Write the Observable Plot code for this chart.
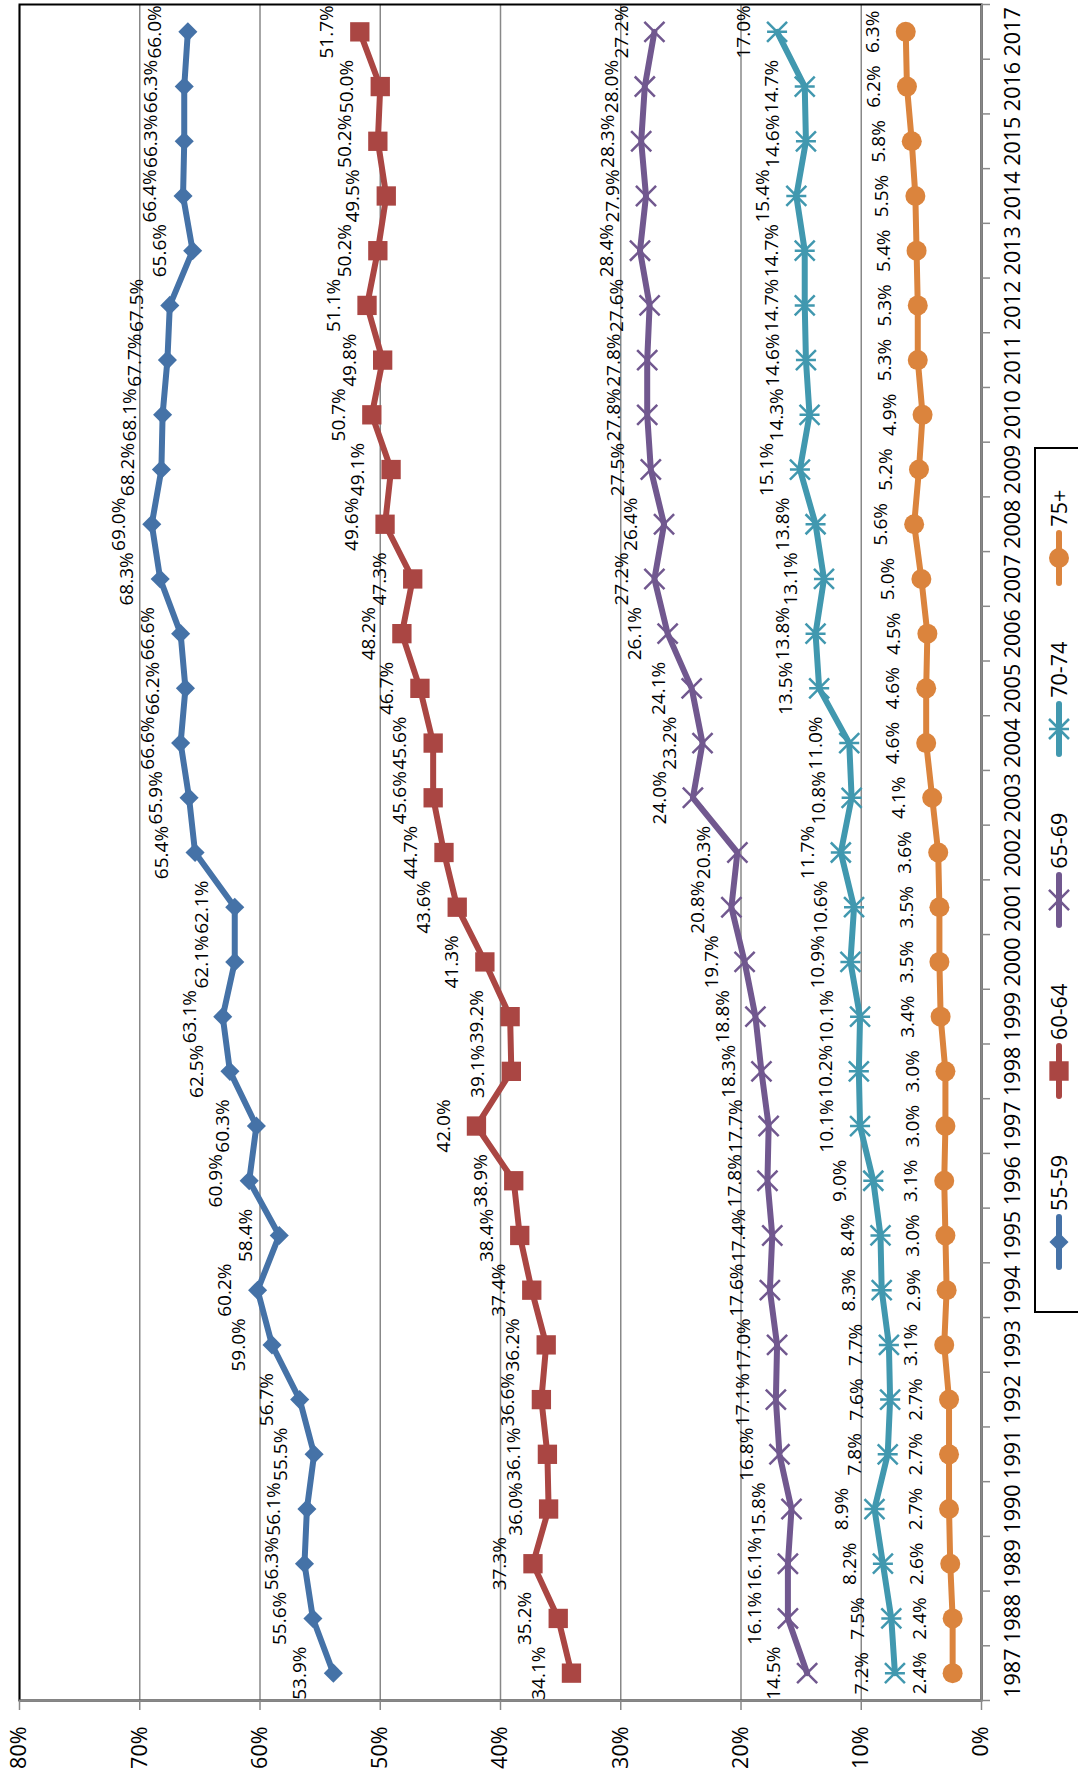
<!DOCTYPE html>
<html>
<head>
<meta charset="utf-8">
<script src="https://cdn.jsdelivr.net/npm/d3@7"></script>
<script src="https://cdn.jsdelivr.net/npm/@observablehq/plot@0.6"></script>
<style>
html, body { margin: 0; padding: 0; background: #fff; }
body { width: 1078px; height: 1775px; overflow: hidden; position: relative; font-family: "Open Sans", sans-serif; }
#wrap { position: absolute; left: 0; top: 0; width: 1775px; height: 1078px; transform-origin: 0 0;
        transform: translateY(1775px) rotate(-90deg); overflow: hidden; background: #fff; }
#chart svg { display: block; }
#legend { position: absolute; left: 462px; top: 1034px; width: 866px; height: 80px; border: 2px solid #000;
          box-sizing: border-box; display: flex; align-items: flex-start; padding: 9px 0 0 41px; gap: 56px; background: #fff; }
.item { display: flex; align-items: center; font-size: 21.5px; line-height: 28px; color: #000; }
.item svg { display: block; margin-right: 3px; }
</style>
</head>
<body>
<div id="wrap">
  <div id="chart"></div>
  <div id="legend"></div>
</div>
<script>
// ---- data ----
const years = [1987, 1988, 1989, 1990, 1991, 1992, 1993, 1994, 1995, 1996, 1997, 1998, 1999, 2000, 2001, 2002,
               2003, 2004, 2005, 2006, 2007, 2008, 2009, 2010, 2011, 2012, 2013, 2014, 2015, 2016, 2017];
const seriesNames = ["55-59", "60-64", "65-69", "70-74", "75+"];
const age55_59 = [53.9, 55.6, 56.3, 56.1, 55.5, 56.7, 59.0, 60.2, 58.4, 60.9, 60.3, 62.5, 63.1, 62.1, 62.1, 65.4,
                  65.9, 66.6, 66.2, 66.6, 68.3, 69.0, 68.2, 68.1, 67.7, 67.5, 65.6, 66.4, 66.3, 66.3, 66.0];
const age60_64 = [34.1, 35.2, 37.3, 36.0, 36.1, 36.6, 36.2, 37.4, 38.4, 38.9, 42.0, 39.1, 39.2, 41.3, 43.6, 44.7,
                  45.6, 45.6, 46.7, 48.2, 47.3, 49.6, 49.1, 50.7, 49.8, 51.1, 50.2, 49.5, 50.2, 50.0, 51.7];
const age65_69 = [14.5, 16.1, 16.1, 15.8, 16.8, 17.1, 17.0, 17.6, 17.4, 17.8, 17.7, 18.3, 18.8, 19.7, 20.8, 20.3,
                  24.0, 23.2, 24.1, 26.1, 27.2, 26.4, 27.5, 27.8, 27.8, 27.6, 28.4, 27.9, 28.3, 28.0, 27.2];
const age70_74 = [7.2, 7.5, 8.2, 8.9, 7.8, 7.6, 7.7, 8.3, 8.4, 9.0, 10.1, 10.2, 10.1, 10.9, 10.6, 11.7,
                  10.8, 11.0, 13.5, 13.8, 13.1, 13.8, 15.1, 14.3, 14.6, 14.7, 14.7, 15.4, 14.6, 14.7, 17.0];
const age75plus = [2.4, 2.4, 2.6, 2.7, 2.7, 2.7, 3.1, 2.9, 3.0, 3.1, 3.0, 3.0, 3.4, 3.5, 3.5, 3.6,
                   4.1, 4.6, 4.6, 4.5, 5.0, 5.6, 5.2, 4.9, 5.3, 5.3, 5.4, 5.5, 5.8, 6.2, 6.3];
const yTicks = [0, 10, 20, 30, 40, 50, 60, 70, 80];

// ---- styles ----
const colors = ["#4572A7", "#AA4643", "#71588F", "#4198AF", "#DB843D"];
const asterisk = {
  draw(ctx, size) {
    const r = Math.sqrt(size / Math.PI);
    ctx.moveTo(-r, -r); ctx.lineTo(r, r);
    ctx.moveTo(-r, r); ctx.lineTo(r, -r);
    ctx.moveTo(0, -r); ctx.lineTo(0, r);
  }
};
const markers = [
  {symbol: "diamond2", d3sym: d3.symbolDiamond2, r: 8.6, filled: true},
  {symbol: "square", d3sym: d3.symbolSquare, r: 10.9, filled: true},
  {symbol: "times", d3sym: d3.symbolTimes, r: 9.2, filled: false},
  {symbol: asterisk, d3sym: asterisk, r: 10, filled: false},
  {symbol: "circle", d3sym: d3.symbolCircle, r: 10, filled: true}
];

const valuesList = [age55_59, age60_64, age65_69, age70_74, age75plus];
const tables = valuesList.map((vals, i) => vals.map((v, j) => ({year: years[j], value: v, series: seriesNames[i]})));

const x0 = years[0] - 0.5, x1 = years[years.length - 1] + 0.5;
const bounds = years.map(y => y - 0.5).concat([x1]);
const grid = "#888888";

const marks = [
  Plot.gridY(yTicks, {stroke: grid, strokeOpacity: 1, strokeWidth: 1.5}),
  Plot.frame({stroke: "#000", strokeWidth: 2}),
  Plot.ruleY([0], {stroke: grid, strokeWidth: 2}),
  Plot.ruleX([x0], {stroke: grid, strokeWidth: 2}),
  Plot.axisY({ticks: yTicks, tickSize: 9, tickPadding: 17, tickFormat: d => d + "%", fontSize: 21.5,
              stroke: grid, strokeWidth: 1.5, fill: "#000", label: null}),
  Plot.axisX({ticks: bounds, tickSize: 9, tickFormat: () => "", stroke: grid, strokeWidth: 1.5, label: null}),
  Plot.axisX({ticks: years, tickSize: 0, tickPadding: 23, tickFormat: d => String(d), fontSize: 21.5,
              fill: "#000", label: null})
];

tables.forEach((rows, i) => {
  marks.push(Plot.line(rows, {x: "year", y: "value", stroke: colors[i], strokeWidth: 6}));
});
tables.forEach((rows, i) => {
  const m = markers[i];
  marks.push(Plot.dot(rows, m.filled
    ? {x: "year", y: "value", symbol: () => m.symbol, r: m.r, fill: colors[i], stroke: "none"}
    : {x: "year", y: "value", symbol: () => m.symbol, r: m.r, fill: "none", stroke: colors[i], strokeWidth: 2.5}));
});
tables.forEach((rows) => {
  marks.push(Plot.text(rows, {x: "year", y: "value", text: d => d.value.toFixed(1) + "%", dy: -33,
                              fontSize: 19, fill: "#000"}));
});

const chart = Plot.plot({
  width: 1775,
  height: 1034,
  marginLeft: 74,
  marginRight: 5,
  marginTop: 19,
  marginBottom: 53,
  x: {type: "linear", domain: [x0, x1], label: null},
  y: {domain: [0, 80], label: null},
  symbol: {type: "identity"},
  style: {fontFamily: '"Open Sans", sans-serif', background: "#fff", overflow: "visible"},
  marks
});
document.getElementById("chart").appendChild(chart);

// ---- legend ----
const legend = d3.select("#legend");
seriesNames.forEach((name, i) => {
  const item = legend.append("div").attr("class", "item");
  const svg = item.append("svg").attr("width", 56).attr("height", 28);
  svg.append("line").attr("x1", 3).attr("x2", 53).attr("y1", 14).attr("y2", 14)
     .attr("stroke", colors[i]).attr("stroke-width", 6).attr("stroke-linecap", "round");
  const m = markers[i];
  const p = d3.symbol(m.d3sym, Math.PI * m.r * m.r)();
  svg.append("path").attr("d", p).attr("transform", "translate(28,14)")
     .attr("fill", m.filled ? colors[i] : "none")
     .attr("stroke", m.filled ? "none" : colors[i])
     .attr("stroke-width", m.filled ? 0 : 2.5);
  item.append("span").text(name);
});
</script>
</body>
</html>
